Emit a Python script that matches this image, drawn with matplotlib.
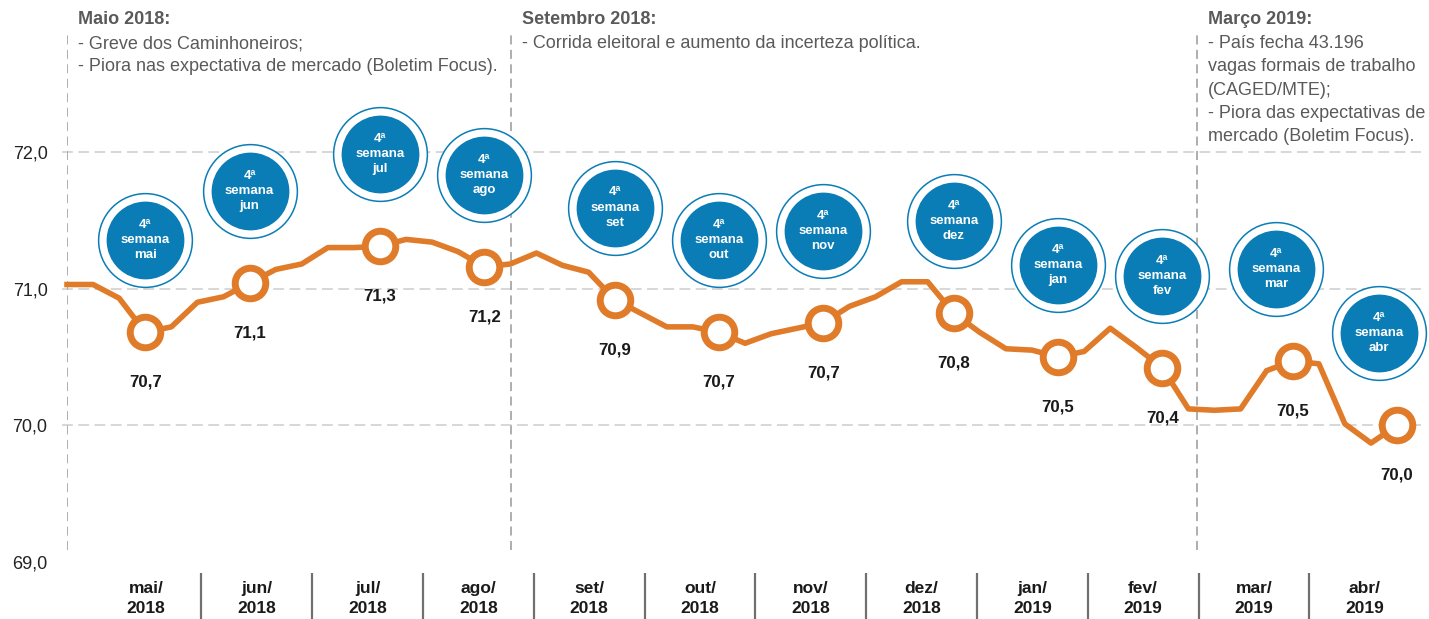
import numpy as np
import matplotlib.pyplot as plt
from matplotlib.transforms import offset_copy

plt.rcParams['font.family'] = ['Liberation Sans', 'DejaVu Sans']

# weekly values, mai/2018 .. abr/2019
week_vals = [71.03, 71.03, 70.93, 70.68, 70.72, 70.90, 70.94, 71.04,
             71.14, 71.18, 71.30, 71.30, 71.31, 71.36, 71.34, 71.27,
             71.16, 71.18, 71.26, 71.17, 71.12, 70.92, 70.82, 70.72,
             70.72, 70.68, 70.60, 70.67, 70.71, 70.75, 70.87, 70.94,
             71.05, 71.05, 70.82, 70.68, 70.56, 70.55, 70.50, 70.54,
             70.71, 70.57, 70.42, 70.12, 70.11, 70.12, 70.40, 70.47,
             70.45, 70.01, 69.87, 70.00]
weeks = np.arange(len(week_vals))

# 4th week of each month
fourth_week = [3, 7, 12, 16, 21, 25, 29, 34, 38, 42, 47, 51]
fourth_labels = ['70,7', '71,1', '71,3', '71,2', '70,9', '70,7',
                 '70,7', '70,8', '70,5', '70,4', '70,5', '70,0']
bubble_months = ['mai', 'jun', 'jul', 'ago', 'set', 'out',
                 'nov', 'dez', 'jan', 'fev', 'mar', 'abr']
month_labels = ['mai/\n2018', 'jun/\n2018', 'jul/\n2018', 'ago/\n2018',
                'set/\n2018', 'out/\n2018', 'nov/\n2018', 'dez/\n2018',
                'jan/\n2019', 'fev/\n2019', 'mar/\n2019', 'abr/\n2019']
yticks = [69, 70, 71, 72]
ytick_labels = ['69,0', '70,0', '71,0', '72,0']

events = [
    (0.0, 'Maio 2018:', ['- Greve dos Caminhoneiros;',
                         '- Piora nas expectativa de mercado (Boletim Focus).']),
    (17.02, 'Setembro 2018:', ['- Corrida eleitoral e aumento da incerteza política.']),
    (43.33, 'Março 2019:', ['- País fecha 43.196', 'vagas formais de trabalho',
                            '(CAGED/MTE);', '- Piora das expectativas de',
                            'mercado (Boletim Focus).']),
]

orange = '#e07b2a'
blue = '#0a7db6'
gray_txt = '#5a5a5a'

fig = plt.figure(figsize=(14.29, 6.19), dpi=100)
ax = fig.add_axes([67 / 1429, 57 / 619, 1362 / 1429, 562 / 619])
ax.set_xlim(0, 1362 / 26.08)
ax.set_ylim(69, 69 + 562 / 136.7)
for s in ax.spines.values():
    s.set_visible(False)

# grid
ax.hlines([70, 71, 72], -0.2, 51.9, colors='#d4d4d4', lw=1.3,
          linestyles=(0, (6, 3)), clip_on=False, zorder=1)

# event lines + texts
for xe, title, lines in events:
    ax.vlines(xe, 69.09, 72.88, colors='#a8a8a8', lw=1.3,
              linestyles=(0, (5, 3)), zorder=1)
    ax.annotate(title, (xe, 72.88), xytext=(11, 12), textcoords='offset pixels',
                ha='left', va='center', fontsize=13, fontweight='bold', color=gray_txt)
    for k, ln in enumerate(lines):
        ax.annotate(ln, (xe, 72.88), xytext=(11, -12 - 23.3 * k),
                    textcoords='offset pixels', ha='left', va='center',
                    fontsize=13, color=gray_txt)

# main line
ax.plot(weeks, week_vals, color=orange, lw=4, zorder=3, clip_on=False)
mvals = [week_vals[i] for i in fourth_week]
ax.plot(fourth_week, mvals, 'o', ms=22, mfc='white', mec=orange, mew=5,
        zorder=4, clip_on=False)
for w, v, lab in zip(fourth_week, mvals, fourth_labels):
    ax.annotate(lab, (w, v), xytext=(0, -50), textcoords='offset pixels',
                ha='center', va='center', fontsize=12.2, fontweight='bold',
                color='#1a1a1a')

# bubbles
bubble_dx = [0, 0, 0, 0, 0, 0, 0, 0, 0, 0, -17, -18]
for w, v, m, dx in zip(fourth_week, mvals, bubble_months, bubble_dx):
    tr = offset_copy(ax.transData, fig=fig, x=dx, y=92, units='dots')
    ax.plot([w], [v], 'o', transform=tr, ms=67.5, mfc='white', mec=blue,
            mew=1.1, zorder=5, clip_on=False)
    ax.plot([w], [v], 'o', transform=tr, ms=56, mfc=blue, mec='none',
            zorder=6, clip_on=False)
    ax.annotate('4ª\nsemana\n' + m, (w, v), xytext=(dx, 92),
                textcoords='offset pixels', ha='center', va='center',
                fontsize=9.5, fontweight='bold', color='white',
                linespacing=1.35, zorder=7)

# axes ticks
ax.set_yticks(yticks)
ax.set_yticklabels(ytick_labels, fontsize=13, color='#222222')
centers = 3.03 + 4.248 * np.arange(len(month_labels))
ax.set_xticks(centers)
ax.set_xticklabels(month_labels, fontsize=12.5, fontweight='bold',
                   color='#1a1a1a', linespacing=1.4)
ax.tick_params(axis='y', length=0, pad=14)
ax.tick_params(axis='x', length=0, pad=14)

# month separators below the plot
seps = centers[:-1] + 4.248 / 2
ax.vlines(seps, -0.1014, -0.0196, transform=ax.get_xaxis_transform(),
          colors='#707070', lw=1.6, clip_on=False)

fig.savefig('out.png', dpi=100)
